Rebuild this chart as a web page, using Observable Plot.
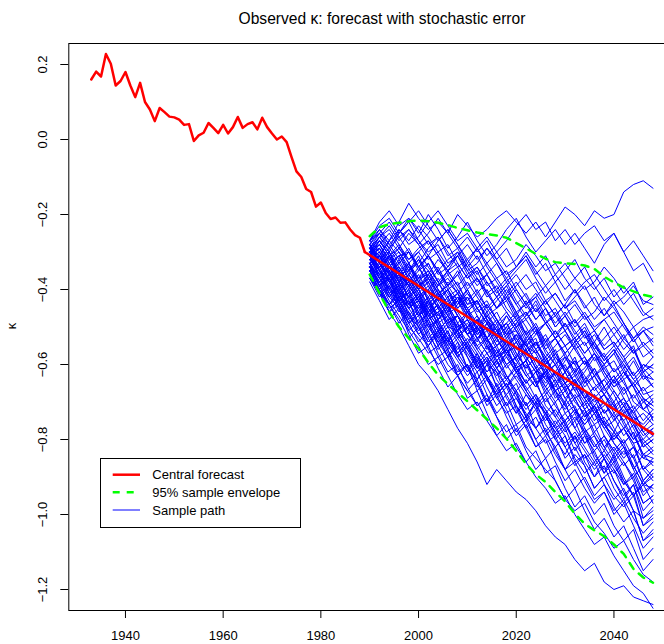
<!DOCTYPE html>
<html><head><meta charset="utf-8">
<script src="https://cdn.jsdelivr.net/npm/d3@7"></script>
<script src="https://cdn.jsdelivr.net/npm/@observablehq/plot@0.6"></script>
<style>
body{margin:0;background:#fff;}
#wrap{position:relative;width:664px;height:644px;overflow:hidden;background:#fff;font-family:"Liberation Sans",Arial,sans-serif;}
#wrap svg.ov{position:absolute;left:0;top:0;}
</style></head><body><div id="wrap"></div>
<script>
const titleText = "Observed κ: forecast with stochastic error";
const yLabel = "κ";
const legendLabels = ["Central forecast", "95% sample envelope", "Sample path"];

const obsYears = [1933,1934,1935,1936,1937,1938,1939,1940,1941,1942,1943,1944,1945,1946,1947,1948,1949,1950,1951,1952,1953,1954,1955,1956,1957,1958,1959,1960,1961,1962,1963,1964,1965,1966,1967,1968,1969,1970,1971,1972,1973,1974,1975,1976,1977,1978,1979,1980,1981,1982,1983,1984,1985,1986,1987,1988,1989];
const obsValues = [0.160,0.181,0.168,0.228,0.202,0.144,0.156,0.180,0.144,0.113,0.151,0.100,0.080,0.049,0.084,0.073,0.061,0.059,0.053,0.039,0.041,-0.004,0.011,0.018,0.044,0.031,0.017,0.039,0.016,0.033,0.060,0.031,0.041,0.046,0.027,0.058,0.033,0.016,0.000,0.008,-0.007,-0.047,-0.085,-0.100,-0.132,-0.140,-0.179,-0.168,-0.196,-0.212,-0.208,-0.222,-0.221,-0.240,-0.255,-0.262,-0.300];

const centralYears = [1989, 2048];
const centralValues = [-0.300, -0.785];

const pathYears = [1990,1992,1994,1996,1998,2000,2002,2004,2006,2008,2010,2012,2014,2016,2018,2020,2022,2024,2026,2028,2030,2032,2034,2036,2038,2040,2042,2044,2046,2048];
const envUpper = [-0.258,-0.234,-0.226,-0.222,-0.218,-0.216,-0.218,-0.222,-0.228,-0.236,-0.242,-0.248,-0.252,-0.256,-0.262,-0.276,-0.290,-0.305,-0.318,-0.327,-0.330,-0.332,-0.336,-0.345,-0.366,-0.381,-0.395,-0.405,-0.414,-0.420];
const envLower = [-0.36,-0.41,-0.46,-0.50,-0.53,-0.558,-0.595,-0.628,-0.652,-0.675,-0.698,-0.722,-0.746,-0.770,-0.798,-0.830,-0.865,-0.893,-0.913,-0.940,-0.965,-0.998,-1.025,-1.042,-1.058,-1.080,-1.105,-1.145,-1.168,-1.182];

const samplePaths = [
[-0.28,-0.24,-0.27,-0.22,-0.17,-0.21,-0.24,-0.22,-0.25,-0.20,-0.23,-0.26,-0.24,-0.21,-0.19,-0.22,-0.25,-0.22,-0.26,-0.22,-0.18,-0.20,-0.23,-0.19,-0.21,-0.20,-0.14,-0.12,-0.11,-0.13],
[-0.27,-0.22,-0.19,-0.23,-0.21,-0.25,-0.20,-0.24,-0.29,-0.26,-0.22,-0.27,-0.31,-0.28,-0.24,-0.21,-0.26,-0.30,-0.27,-0.24,-0.28,-0.25,-0.29,-0.33,-0.28,-0.25,-0.30,-0.27,-0.31,-0.35],
[-0.29,-0.26,-0.30,-0.25,-0.22,-0.19,-0.23,-0.27,-0.24,-0.28,-0.33,-0.29,-0.26,-0.30,-0.27,-0.23,-0.20,-0.24,-0.22,-0.27,-0.24,-0.28,-0.25,-0.23,-0.27,-0.25,-0.30,-0.35,-0.33,-0.38],
[-0.36,-0.41,-0.46,-0.50,-0.55,-0.60,-0.63,-0.67,-0.72,-0.77,-0.81,-0.86,-0.92,-0.88,-0.91,-0.94,-0.96,-0.99,-1.03,-1.06,-1.08,-1.12,-1.15,-1.13,-1.18,-1.20,-1.19,-1.22,-1.23,-1.24],
[-0.35,-0.38,-0.43,-0.47,-0.51,-0.55,-0.60,-0.58,-0.63,-0.68,-0.72,-0.70,-0.75,-0.79,-0.83,-0.81,-0.86,-0.90,-0.93,-0.97,-0.95,-1.00,-1.04,-1.08,-1.06,-1.11,-1.15,-1.19,-1.21,-1.25],
[-0.34,-0.39,-0.42,-0.45,-0.50,-0.53,-0.57,-0.55,-0.60,-0.63,-0.67,-0.71,-0.69,-0.74,-0.78,-0.76,-0.82,-0.85,-0.88,-0.91,-0.96,-0.99,-0.97,-1.02,-1.05,-1.09,-1.07,-1.12,-1.16,-1.18],
[-0.30,-0.27,-0.31,-0.29,-0.25,-0.28,-0.32,-0.30,-0.34,-0.31,-0.35,-0.33,-0.29,-0.32,-0.36,-0.34,-0.31,-0.35,-0.39,-0.36,-0.33,-0.37,-0.40,-0.38,-0.34,-0.37,-0.41,-0.38,-0.44,-0.42],
[-0.31,-0.28,-0.25,-0.29,-0.32,-0.30,-0.27,-0.31,-0.35,-0.33,-0.37,-0.34,-0.38,-0.42,-0.39,-0.36,-0.40,-0.38,-0.43,-0.41,-0.45,-0.42,-0.39,-0.44,-0.47,-0.43,-0.46,-0.50,-0.48,-0.47],
[-0.28,-0.32,-0.29,-0.26,-0.24,-0.27,-0.31,-0.35,-0.32,-0.30,-0.34,-0.38,-0.36,-0.40,-0.37,-0.41,-0.45,-0.42,-0.39,-0.43,-0.47,-0.44,-0.48,-0.46,-0.42,-0.45,-0.49,-0.53,-0.51,-0.50],
[-0.32,-0.30,-0.34,-0.31,-0.35,-0.33,-0.29,-0.26,-0.30,-0.34,-0.32,-0.36,-0.33,-0.37,-0.41,-0.38,-0.42,-0.46,-0.43,-0.47,-0.44,-0.40,-0.44,-0.48,-0.45,-0.49,-0.53,-0.50,-0.55,-0.53],
[-0.29,-0.33,-0.36,-0.33,-0.30,-0.34,-0.31,-0.35,-0.39,-0.36,-0.33,-0.37,-0.41,-0.39,-0.43,-0.40,-0.44,-0.41,-0.45,-0.49,-0.46,-0.50,-0.47,-0.51,-0.55,-0.52,-0.56,-0.53,-0.58,-0.56],
[-0.33,-0.37,-0.34,-0.38,-0.36,-0.32,-0.35,-0.39,-0.37,-0.41,-0.38,-0.42,-0.46,-0.43,-0.40,-0.44,-0.48,-0.45,-0.49,-0.47,-0.51,-0.48,-0.52,-0.56,-0.53,-0.50,-0.54,-0.57,-0.55,-0.58],
[-0.27,-0.25,-0.29,-0.33,-0.30,-0.34,-0.38,-0.35,-0.39,-0.43,-0.40,-0.37,-0.41,-0.45,-0.42,-0.46,-0.44,-0.48,-0.45,-0.50,-0.47,-0.51,-0.55,-0.52,-0.56,-0.54,-0.58,-0.55,-0.62,-0.60],
[-0.31,-0.35,-0.38,-0.42,-0.39,-0.43,-0.40,-0.37,-0.41,-0.45,-0.42,-0.46,-0.44,-0.48,-0.52,-0.49,-0.46,-0.50,-0.54,-0.51,-0.55,-0.53,-0.57,-0.54,-0.58,-0.62,-0.59,-0.63,-0.60,-0.62],
[-0.30,-0.28,-0.32,-0.30,-0.34,-0.37,-0.35,-0.39,-0.36,-0.40,-0.44,-0.41,-0.45,-0.49,-0.46,-0.50,-0.48,-0.52,-0.49,-0.53,-0.57,-0.54,-0.51,-0.55,-0.59,-0.56,-0.60,-0.64,-0.61,-0.64],
[-0.34,-0.31,-0.35,-0.39,-0.36,-0.40,-0.44,-0.41,-0.45,-0.42,-0.46,-0.50,-0.47,-0.51,-0.49,-0.53,-0.57,-0.54,-0.58,-0.55,-0.52,-0.56,-0.60,-0.57,-0.61,-0.65,-0.62,-0.66,-0.63,-0.66],
[-0.28,-0.33,-0.30,-0.36,-0.35,-0.31,-0.37,-0.42,-0.40,-0.38,-0.44,-0.43,-0.47,-0.45,-0.41,-0.46,-0.52,-0.50,-0.55,-0.53,-0.49,-0.54,-0.58,-0.63,-0.61,-0.59,-0.64,-0.62,-0.68,-0.67],
[-0.32,-0.35,-0.41,-0.39,-0.44,-0.42,-0.47,-0.45,-0.50,-0.51,-0.46,-0.43,-0.48,-0.53,-0.50,-0.56,-0.54,-0.51,-0.57,-0.60,-0.58,-0.63,-0.61,-0.57,-0.62,-0.66,-0.64,-0.70,-0.72,-0.69],
[-0.30,-0.29,-0.34,-0.31,-0.30,-0.35,-0.33,-0.38,-0.43,-0.41,-0.46,-0.49,-0.44,-0.48,-0.52,-0.51,-0.56,-0.54,-0.59,-0.62,-0.58,-0.60,-0.65,-0.63,-0.67,-0.64,-0.61,-0.66,-0.72,-0.70],
[-0.33,-0.38,-0.36,-0.40,-0.37,-0.41,-0.46,-0.44,-0.49,-0.47,-0.52,-0.50,-0.55,-0.58,-0.56,-0.61,-0.59,-0.54,-0.58,-0.63,-0.60,-0.65,-0.69,-0.66,-0.64,-0.68,-0.73,-0.71,-0.75,-0.72],
[-0.29,-0.27,-0.31,-0.28,-0.33,-0.37,-0.36,-0.41,-0.39,-0.35,-0.40,-0.45,-0.43,-0.48,-0.53,-0.50,-0.55,-0.57,-0.54,-0.59,-0.64,-0.61,-0.66,-0.63,-0.68,-0.71,-0.69,-0.74,-0.76,-0.73],
[-0.35,-0.34,-0.39,-0.43,-0.41,-0.38,-0.43,-0.48,-0.46,-0.51,-0.49,-0.53,-0.57,-0.55,-0.60,-0.58,-0.53,-0.57,-0.62,-0.60,-0.65,-0.63,-0.67,-0.70,-0.68,-0.72,-0.69,-0.73,-0.77,-0.74],
[-0.31,-0.36,-0.34,-0.38,-0.42,-0.39,-0.37,-0.41,-0.45,-0.43,-0.48,-0.52,-0.50,-0.55,-0.53,-0.58,-0.56,-0.61,-0.64,-0.62,-0.66,-0.64,-0.69,-0.73,-0.71,-0.67,-0.71,-0.75,-0.73,-0.76],
[-0.27,-0.30,-0.35,-0.33,-0.37,-0.40,-0.45,-0.42,-0.47,-0.50,-0.48,-0.53,-0.51,-0.56,-0.60,-0.58,-0.63,-0.61,-0.66,-0.62,-0.65,-0.69,-0.67,-0.72,-0.70,-0.74,-0.79,-0.76,-0.80,-0.77],
[-0.32,-0.31,-0.35,-0.40,-0.38,-0.42,-0.39,-0.44,-0.48,-0.47,-0.52,-0.50,-0.46,-0.51,-0.55,-0.53,-0.58,-0.62,-0.60,-0.64,-0.69,-0.66,-0.70,-0.68,-0.73,-0.71,-0.75,-0.80,-0.77,-0.78],
[-0.34,-0.39,-0.37,-0.42,-0.45,-0.43,-0.48,-0.46,-0.43,-0.47,-0.52,-0.55,-0.53,-0.58,-0.56,-0.61,-0.59,-0.64,-0.62,-0.67,-0.65,-0.69,-0.74,-0.72,-0.77,-0.75,-0.71,-0.76,-0.81,-0.79],
[-0.30,-0.34,-0.32,-0.36,-0.39,-0.43,-0.46,-0.42,-0.38,-0.41,-0.45,-0.49,-0.53,-0.50,-0.47,-0.51,-0.55,-0.59,-0.62,-0.58,-0.61,-0.65,-0.69,-0.66,-0.70,-0.74,-0.71,-0.75,-0.82,-0.80],
[-0.28,-0.25,-0.22,-0.26,-0.30,-0.34,-0.31,-0.35,-0.40,-0.44,-0.41,-0.45,-0.49,-0.53,-0.57,-0.54,-0.58,-0.62,-0.59,-0.63,-0.67,-0.64,-0.68,-0.72,-0.76,-0.73,-0.77,-0.74,-0.78,-0.81],
[-0.33,-0.37,-0.41,-0.44,-0.42,-0.47,-0.45,-0.49,-0.47,-0.52,-0.50,-0.55,-0.59,-0.56,-0.61,-0.58,-0.54,-0.60,-0.64,-0.67,-0.65,-0.70,-0.73,-0.71,-0.76,-0.79,-0.77,-0.81,-0.80,-0.83],
[-0.31,-0.29,-0.34,-0.38,-0.42,-0.40,-0.36,-0.40,-0.44,-0.49,-0.52,-0.48,-0.53,-0.57,-0.54,-0.59,-0.63,-0.66,-0.62,-0.67,-0.71,-0.68,-0.72,-0.76,-0.74,-0.78,-0.82,-0.85,-0.81,-0.84],
[-0.35,-0.40,-0.37,-0.41,-0.45,-0.49,-0.46,-0.50,-0.54,-0.51,-0.55,-0.60,-0.57,-0.61,-0.64,-0.60,-0.65,-0.62,-0.66,-0.70,-0.67,-0.72,-0.75,-0.71,-0.76,-0.80,-0.77,-0.81,-0.88,-0.85],
[-0.29,-0.33,-0.38,-0.35,-0.39,-0.43,-0.47,-0.51,-0.48,-0.52,-0.56,-0.53,-0.57,-0.61,-0.58,-0.62,-0.66,-0.70,-0.67,-0.71,-0.75,-0.72,-0.76,-0.73,-0.77,-0.81,-0.84,-0.82,-0.85,-0.86],
[-0.32,-0.36,-0.40,-0.43,-0.48,-0.45,-0.49,-0.53,-0.50,-0.54,-0.58,-0.62,-0.59,-0.63,-0.60,-0.64,-0.68,-0.72,-0.69,-0.73,-0.77,-0.74,-0.78,-0.82,-0.79,-0.83,-0.87,-0.84,-0.91,-0.88],
[-0.34,-0.31,-0.36,-0.40,-0.44,-0.41,-0.45,-0.49,-0.53,-0.57,-0.54,-0.58,-0.62,-0.59,-0.63,-0.67,-0.71,-0.68,-0.72,-0.76,-0.73,-0.77,-0.81,-0.78,-0.82,-0.86,-0.83,-0.87,-0.92,-0.89],
[-0.30,-0.35,-0.38,-0.43,-0.40,-0.44,-0.48,-0.52,-0.49,-0.53,-0.57,-0.61,-0.58,-0.62,-0.66,-0.63,-0.67,-0.71,-0.75,-0.72,-0.76,-0.80,-0.77,-0.81,-0.85,-0.82,-0.86,-0.90,-0.87,-0.90],
[-0.36,-0.41,-0.44,-0.42,-0.46,-0.50,-0.54,-0.51,-0.55,-0.59,-0.63,-0.60,-0.64,-0.68,-0.65,-0.69,-0.73,-0.77,-0.74,-0.78,-0.82,-0.79,-0.83,-0.87,-0.84,-0.88,-0.92,-0.89,-0.95,-0.92],
[-0.28,-0.33,-0.37,-0.41,-0.45,-0.42,-0.46,-0.50,-0.54,-0.58,-0.55,-0.59,-0.63,-0.67,-0.64,-0.68,-0.72,-0.69,-0.73,-0.77,-0.81,-0.78,-0.82,-0.86,-0.83,-0.87,-0.91,-0.95,-0.92,-0.93],
[-0.33,-0.39,-0.36,-0.42,-0.41,-0.47,-0.44,-0.49,-0.55,-0.52,-0.56,-0.61,-0.59,-0.66,-0.63,-0.68,-0.74,-0.70,-0.72,-0.79,-0.76,-0.81,-0.85,-0.83,-0.89,-0.86,-0.92,-0.90,-0.97,-0.95],
[-0.35,-0.31,-0.38,-0.43,-0.40,-0.46,-0.50,-0.48,-0.53,-0.51,-0.58,-0.64,-0.60,-0.62,-0.69,-0.73,-0.68,-0.71,-0.78,-0.75,-0.79,-0.86,-0.84,-0.88,-0.85,-0.91,-0.95,-0.92,-0.99,-0.96],
[-0.31,-0.37,-0.42,-0.39,-0.45,-0.43,-0.49,-0.55,-0.53,-0.57,-0.54,-0.60,-0.66,-0.71,-0.68,-0.73,-0.70,-0.77,-0.81,-0.79,-0.85,-0.82,-0.87,-0.93,-0.90,-0.88,-0.94,-0.99,-1.01,-0.98],
[-0.37,-0.40,-0.46,-0.44,-0.51,-0.48,-0.53,-0.58,-0.56,-0.63,-0.60,-0.65,-0.70,-0.67,-0.72,-0.78,-0.75,-0.80,-0.77,-0.83,-0.88,-0.84,-0.87,-0.93,-0.90,-0.95,-0.98,-0.95,-1.03,-1.00],
[-0.32,-0.35,-0.41,-0.46,-0.43,-0.49,-0.54,-0.51,-0.57,-0.62,-0.60,-0.67,-0.64,-0.69,-0.73,-0.71,-0.77,-0.82,-0.79,-0.84,-0.88,-0.86,-0.91,-0.96,-0.94,-0.99,-0.96,-1.01,-1.05,-1.02],
[-0.34,-0.39,-0.37,-0.44,-0.49,-0.47,-0.53,-0.50,-0.56,-0.61,-0.65,-0.62,-0.68,-0.73,-0.70,-0.76,-0.74,-0.80,-0.85,-0.82,-0.88,-0.93,-0.90,-0.95,-0.92,-0.98,-1.02,-0.99,-1.07,-1.04],
[-0.36,-0.34,-0.40,-0.45,-0.43,-0.50,-0.55,-0.52,-0.58,-0.63,-0.60,-0.65,-0.71,-0.68,-0.74,-0.79,-0.76,-0.82,-0.80,-0.86,-0.91,-0.88,-0.93,-0.97,-0.94,-1.00,-0.97,-1.03,-1.09,-1.06],
[-0.38,-0.43,-0.48,-0.45,-0.52,-0.57,-0.55,-0.61,-0.66,-0.63,-0.69,-0.67,-0.73,-0.79,-0.76,-0.82,-0.86,-0.83,-0.89,-0.87,-0.93,-0.98,-0.95,-1.00,-0.97,-1.03,-1.07,-1.04,-1.12,-1.09],
[-0.35,-0.40,-0.45,-0.43,-0.49,-0.54,-0.51,-0.57,-0.62,-0.60,-0.66,-0.71,-0.68,-0.74,-0.80,-0.77,-0.83,-0.88,-0.85,-0.91,-0.96,-0.93,-0.99,-1.04,-1.01,-1.06,-1.03,-1.09,-1.15,-1.12],
[-0.27,-0.23,-0.21,-0.25,-0.22,-0.27,-0.30,-0.28,-0.33,-0.31,-0.36,-0.34,-0.39,-0.37,-0.35,-0.40,-0.44,-0.42,-0.47,-0.45,-0.50,-0.48,-0.53,-0.51,-0.56,-0.54,-0.58,-0.63,-0.60,-0.61],
[-0.30,-0.26,-0.24,-0.28,-0.32,-0.29,-0.27,-0.31,-0.36,-0.34,-0.39,-0.37,-0.42,-0.40,-0.45,-0.48,-0.46,-0.51,-0.49,-0.53,-0.51,-0.56,-0.54,-0.59,-0.57,-0.62,-0.60,-0.64,-0.67,-0.65],
[-0.33,-0.31,-0.36,-0.34,-0.39,-0.37,-0.33,-0.38,-0.42,-0.40,-0.45,-0.43,-0.48,-0.51,-0.49,-0.46,-0.50,-0.55,-0.52,-0.57,-0.55,-0.60,-0.58,-0.62,-0.66,-0.63,-0.67,-0.65,-0.69,-0.71],
[-0.29,-0.35,-0.31,-0.38,-0.33,-0.40,-0.37,-0.41,-0.46,-0.42,-0.45,-0.51,-0.47,-0.50,-0.56,-0.52,-0.55,-0.53,-0.60,-0.57,-0.62,-0.58,-0.65,-0.61,-0.66,-0.70,-0.66,-0.72,-0.69,-0.75],
[-0.31,-0.37,-0.40,-0.36,-0.43,-0.45,-0.42,-0.48,-0.44,-0.51,-0.55,-0.50,-0.54,-0.60,-0.57,-0.55,-0.62,-0.66,-0.61,-0.67,-0.70,-0.65,-0.72,-0.69,-0.75,-0.78,-0.73,-0.79,-0.84,-0.82],
[-0.34,-0.36,-0.42,-0.38,-0.44,-0.47,-0.43,-0.50,-0.54,-0.49,-0.56,-0.59,-0.55,-0.61,-0.66,-0.62,-0.67,-0.64,-0.71,-0.74,-0.70,-0.77,-0.73,-0.79,-0.83,-0.78,-0.82,-0.88,-0.84,-0.87],
[-0.37,-0.41,-0.46,-0.42,-0.48,-0.52,-0.49,-0.55,-0.51,-0.58,-0.62,-0.57,-0.63,-0.68,-0.65,-0.71,-0.75,-0.70,-0.76,-0.80,-0.77,-0.83,-0.79,-0.85,-0.89,-0.84,-0.90,-0.95,-0.91,-0.94],
[-0.33,-0.39,-0.44,-0.40,-0.47,-0.50,-0.46,-0.53,-0.58,-0.54,-0.61,-0.64,-0.60,-0.66,-0.71,-0.67,-0.74,-0.77,-0.73,-0.80,-0.84,-0.79,-0.86,-0.90,-0.85,-0.91,-0.96,-0.92,-1.01,-0.99],
[-0.29,-0.31,-0.27,-0.24,-0.28,-0.26,-0.22,-0.19,-0.23,-0.27,-0.25,-0.29,-0.33,-0.30,-0.34,-0.32,-0.28,-0.31,-0.35,-0.33,-0.37,-0.41,-0.38,-0.36,-0.40,-0.44,-0.42,-0.39,-0.43,-0.44],
[-0.31,-0.27,-0.30,-0.34,-0.38,-0.35,-0.31,-0.27,-0.24,-0.28,-0.32,-0.29,-0.34,-0.38,-0.42,-0.39,-0.36,-0.40,-0.44,-0.41,-0.45,-0.43,-0.47,-0.51,-0.48,-0.46,-0.50,-0.54,-0.51,-0.54],
[-0.30,-0.26,-0.29,-0.24,-0.27,-0.23,-0.26,-0.30,-0.28,-0.33,-0.37,-0.35,-0.41,-0.45,-0.43,-0.48,-0.53,-0.50,-0.56,-0.60,-0.57,-0.62,-0.59,-0.65,-0.68,-0.64,-0.69,-0.73,-0.70,-0.72],
[-0.35,-0.40,-0.44,-0.49,-0.46,-0.52,-0.55,-0.51,-0.56,-0.53,-0.50,-0.54,-0.49,-0.52,-0.47,-0.51,-0.55,-0.52,-0.49,-0.53,-0.57,-0.54,-0.51,-0.56,-0.60,-0.57,-0.53,-0.56,-0.61,-0.58],
[-0.31,-0.34,-0.31,-0.36,-0.39,-0.36,-0.41,-0.45,-0.42,-0.47,-0.50,-0.47,-0.53,-0.58,-0.55,-0.61,-0.59,-0.65,-0.70,-0.67,-0.73,-0.71,-0.77,-0.82,-0.79,-0.84,-0.81,-0.87,-0.92,-0.90],
[-0.28,-0.32,-0.30,-0.35,-0.33,-0.38,-0.43,-0.40,-0.45,-0.42,-0.47,-0.52,-0.49,-0.54,-0.51,-0.57,-0.61,-0.58,-0.63,-0.66,-0.62,-0.67,-0.71,-0.68,-0.73,-0.70,-0.76,-0.80,-0.77,-0.79],
[-0.29,-0.25,-0.28,-0.32,-0.29,-0.34,-0.31,-0.36,-0.34,-0.30,-0.35,-0.39,-0.36,-0.41,-0.38,-0.43,-0.47,-0.44,-0.49,-0.46,-0.51,-0.55,-0.52,-0.57,-0.60,-0.57,-0.62,-0.65,-0.62,-0.66],
[-0.34,-0.39,-0.44,-0.48,-0.53,-0.50,-0.56,-0.60,-0.58,-0.63,-0.67,-0.64,-0.70,-0.65,-0.71,-0.69,-0.74,-0.70,-0.73,-0.77,-0.75,-0.72,-0.78,-0.76,-0.82,-0.79,-0.81,-0.78,-0.84,-0.85],
[-0.27,-0.24,-0.28,-0.25,-0.21,-0.24,-0.28,-0.26,-0.31,-0.29,-0.34,-0.31,-0.36,-0.33,-0.38,-0.35,-0.32,-0.37,-0.41,-0.38,-0.43,-0.40,-0.45,-0.42,-0.47,-0.44,-0.49,-0.53,-0.50,-0.52],
[-0.32,-0.36,-0.33,-0.38,-0.35,-0.39,-0.36,-0.32,-0.35,-0.31,-0.28,-0.32,-0.29,-0.33,-0.37,-0.34,-0.30,-0.34,-0.31,-0.36,-0.40,-0.37,-0.34,-0.39,-0.43,-0.40,-0.44,-0.41,-0.46,-0.48],
[-0.33,-0.37,-0.35,-0.41,-0.45,-0.42,-0.48,-0.46,-0.52,-0.56,-0.53,-0.57,-0.62,-0.59,-0.64,-0.61,-0.67,-0.71,-0.68,-0.74,-0.78,-0.75,-0.81,-0.79,-0.85,-0.89,-0.86,-0.91,-0.97,-0.95],
[-0.31,-0.35,-0.38,-0.35,-0.40,-0.37,-0.43,-0.47,-0.44,-0.41,-0.46,-0.50,-0.53,-0.49,-0.55,-0.52,-0.57,-0.54,-0.59,-0.56,-0.62,-0.59,-0.63,-0.67,-0.64,-0.61,-0.65,-0.69,-0.66,-0.70],
[-0.36,-0.41,-0.39,-0.45,-0.49,-0.46,-0.52,-0.56,-0.53,-0.58,-0.62,-0.59,-0.64,-0.61,-0.57,-0.60,-0.56,-0.61,-0.58,-0.63,-0.59,-0.55,-0.60,-0.57,-0.62,-0.66,-0.63,-0.59,-0.64,-0.62],
[-0.30,-0.28,-0.33,-0.31,-0.36,-0.40,-0.38,-0.43,-0.40,-0.46,-0.50,-0.48,-0.54,-0.51,-0.57,-0.62,-0.59,-0.65,-0.63,-0.69,-0.66,-0.72,-0.76,-0.73,-0.79,-0.83,-0.80,-0.85,-0.91,-0.88],
[-0.35,-0.33,-0.38,-0.36,-0.41,-0.45,-0.42,-0.47,-0.44,-0.49,-0.46,-0.51,-0.48,-0.53,-0.57,-0.54,-0.59,-0.56,-0.61,-0.65,-0.62,-0.67,-0.64,-0.69,-0.66,-0.71,-0.75,-0.72,-0.78,-0.76],
[-0.28,-0.31,-0.27,-0.30,-0.35,-0.32,-0.37,-0.34,-0.39,-0.36,-0.41,-0.44,-0.40,-0.45,-0.42,-0.47,-0.43,-0.48,-0.45,-0.50,-0.47,-0.52,-0.49,-0.54,-0.50,-0.55,-0.52,-0.57,-0.54,-0.57],
[-0.36,-0.40,-0.44,-0.41,-0.47,-0.51,-0.48,-0.54,-0.58,-0.55,-0.61,-0.66,-0.63,-0.69,-0.66,-0.72,-0.77,-0.74,-0.79,-0.76,-0.82,-0.87,-0.84,-0.90,-0.87,-0.93,-0.97,-0.94,-1.03,-1.01],
[-0.32,-0.30,-0.35,-0.39,-0.37,-0.42,-0.40,-0.45,-0.49,-0.47,-0.52,-0.50,-0.55,-0.59,-0.56,-0.61,-0.65,-0.62,-0.67,-0.64,-0.69,-0.73,-0.70,-0.75,-0.72,-0.77,-0.81,-0.78,-0.85,-0.83],
[-0.29,-0.33,-0.36,-0.32,-0.37,-0.41,-0.38,-0.43,-0.40,-0.45,-0.42,-0.47,-0.51,-0.48,-0.52,-0.49,-0.54,-0.51,-0.56,-0.53,-0.58,-0.62,-0.59,-0.63,-0.60,-0.65,-0.62,-0.66,-0.70,-0.68],
[-0.34,-0.38,-0.42,-0.39,-0.44,-0.41,-0.47,-0.51,-0.48,-0.53,-0.50,-0.56,-0.60,-0.57,-0.63,-0.67,-0.64,-0.69,-0.73,-0.70,-0.76,-0.73,-0.79,-0.83,-0.80,-0.85,-0.82,-0.88,-0.94,-0.92],
[-0.31,-0.27,-0.31,-0.35,-0.38,-0.34,-0.39,-0.43,-0.47,-0.44,-0.40,-0.45,-0.49,-0.53,-0.50,-0.47,-0.52,-0.56,-0.60,-0.57,-0.61,-0.65,-0.62,-0.58,-0.63,-0.67,-0.71,-0.68,-0.72,-0.74],
[-0.33,-0.37,-0.34,-0.39,-0.36,-0.40,-0.44,-0.41,-0.46,-0.43,-0.47,-0.45,-0.49,-0.46,-0.51,-0.48,-0.52,-0.49,-0.54,-0.51,-0.55,-0.53,-0.57,-0.54,-0.59,-0.56,-0.61,-0.58,-0.63,-0.64],
[-0.30,-0.35,-0.40,-0.37,-0.42,-0.46,-0.43,-0.48,-0.45,-0.50,-0.54,-0.51,-0.56,-0.53,-0.58,-0.62,-0.60,-0.65,-0.62,-0.68,-0.72,-0.69,-0.74,-0.71,-0.76,-0.80,-0.77,-0.82,-0.88,-0.86],
[-0.29,-0.26,-0.23,-0.27,-0.24,-0.28,-0.25,-0.21,-0.25,-0.29,-0.26,-0.30,-0.27,-0.32,-0.29,-0.34,-0.31,-0.36,-0.33,-0.38,-0.35,-0.32,-0.37,-0.40,-0.37,-0.42,-0.39,-0.43,-0.47,-0.45],
[-0.37,-0.42,-0.39,-0.44,-0.49,-0.46,-0.51,-0.48,-0.54,-0.58,-0.55,-0.61,-0.58,-0.64,-0.68,-0.65,-0.71,-0.68,-0.74,-0.78,-0.75,-0.81,-0.78,-0.84,-0.88,-0.85,-0.91,-0.95,-0.92,-0.97],
[-0.28,-0.33,-0.37,-0.34,-0.39,-0.43,-0.40,-0.45,-0.42,-0.47,-0.51,-0.48,-0.53,-0.57,-0.54,-0.59,-0.56,-0.61,-0.65,-0.62,-0.67,-0.64,-0.69,-0.73,-0.70,-0.75,-0.72,-0.77,-0.82,-0.80],
[-0.32,-0.29,-0.33,-0.37,-0.34,-0.38,-0.42,-0.39,-0.35,-0.39,-0.43,-0.40,-0.45,-0.42,-0.46,-0.50,-0.47,-0.43,-0.48,-0.52,-0.49,-0.53,-0.50,-0.55,-0.58,-0.55,-0.59,-0.56,-0.62,-0.60],
[-0.35,-0.39,-0.37,-0.43,-0.47,-0.44,-0.50,-0.54,-0.51,-0.57,-0.61,-0.58,-0.64,-0.68,-0.65,-0.71,-0.75,-0.72,-0.78,-0.82,-0.79,-0.85,-0.89,-0.86,-0.92,-0.96,-0.93,-0.99,-1.07,-1.05],
[-0.30,-0.34,-0.31,-0.36,-0.33,-0.38,-0.35,-0.40,-0.44,-0.41,-0.46,-0.43,-0.48,-0.52,-0.49,-0.54,-0.51,-0.56,-0.53,-0.58,-0.62,-0.59,-0.64,-0.61,-0.66,-0.63,-0.68,-0.65,-0.69,-0.71],
[-0.33,-0.31,-0.36,-0.40,-0.44,-0.41,-0.46,-0.42,-0.47,-0.51,-0.48,-0.53,-0.50,-0.55,-0.52,-0.57,-0.61,-0.58,-0.63,-0.60,-0.65,-0.62,-0.67,-0.71,-0.68,-0.73,-0.70,-0.75,-0.79,-0.77],
[-0.31,-0.28,-0.32,-0.29,-0.33,-0.30,-0.34,-0.38,-0.35,-0.39,-0.36,-0.41,-0.38,-0.42,-0.39,-0.44,-0.41,-0.46,-0.43,-0.47,-0.44,-0.49,-0.46,-0.50,-0.48,-0.52,-0.49,-0.54,-0.51,-0.55],
[-0.34,-0.38,-0.35,-0.41,-0.38,-0.43,-0.47,-0.44,-0.50,-0.47,-0.52,-0.56,-0.53,-0.59,-0.56,-0.61,-0.65,-0.62,-0.68,-0.65,-0.71,-0.75,-0.72,-0.78,-0.75,-0.81,-0.85,-0.82,-0.88,-0.91]
];

const xTicks = [1940, 1960, 1980, 2000, 2020, 2040];
const yTicks = [0.2, 0.0, -0.2, -0.4, -0.6, -0.8, -1.0, -1.2];
const yTickLabels = ["0.2", "0.0", "\u22120.2", "\u22120.4", "\u22120.6", "\u22120.8", "\u22121.0", "\u22121.2"];

const obsRows = obsYears.map((year, i) => ({year, k: obsValues[i]}));
const centralRows = centralYears.map((year, i) => ({year, k: centralValues[i]}));
const upperRows = pathYears.map((year, i) => ({year, k: envUpper[i]}));
const lowerRows = pathYears.map((year, i) => ({year, k: envLower[i]}));
const pathRows = samplePaths.flatMap((vals, j) => vals.map((k, i) => ({path: j, year: pathYears[i], k})));

const chart = Plot.plot({
  width: 730, height: 644,
  marginLeft: 68.3, marginRight: 34, marginTop: 43, marginBottom: 34,
  x: {domain: [1928.4, 2056.9]},
  y: {domain: [-1.256, 0.256]},
  style: {maxWidth: "none", fontFamily: "'Liberation Sans', Arial, sans-serif", fontSize: "13px", background: "white", color: "black", position: "absolute", left: "0px", top: "0px"},
  marks: [
    Plot.line(pathRows, {x: "year", y: "k", z: "path", stroke: "#0000ff", strokeWidth: 1}),
    Plot.line(obsRows, {x: "year", y: "k", stroke: "#ff0000", strokeWidth: 2.5}),
    Plot.line(upperRows, {x: "year", y: "k", stroke: "#00ff00", strokeWidth: 2.5, strokeDasharray: "7,7"}),
    Plot.line(lowerRows, {x: "year", y: "k", stroke: "#00ff00", strokeWidth: 2.5, strokeDasharray: "7,7"}),
    Plot.line(centralRows, {x: "year", y: "k", stroke: "#ff0000", strokeWidth: 2.5}),
    Plot.frame({stroke: "black"}),
    Plot.axisX(xTicks, {tickSize: 8, tickPadding: 12, tickFormat: d => String(d), label: null}),
    Plot.axisY(yTicks, {tickSize: 8, fill: "none", label: null}),
    Plot.text(yTicks, {y: d => d, text: (d, i) => yTickLabels[i], frameAnchor: "left", dx: -26, rotate: -90, textAnchor: "middle", lineAnchor: "middle", fontSize: 13, fill: "black"})
  ]
});

const wrap = document.getElementById("wrap");
wrap.appendChild(chart);

const NS = "http://www.w3.org/2000/svg";
const ov = document.createElementNS(NS, "svg");
ov.setAttribute("class", "ov");
ov.setAttribute("width", 664);
ov.setAttribute("height", 644);
ov.setAttribute("font-family", "'Liberation Sans', Arial, sans-serif");
function el(tag, attrs, text) {
  const e = document.createElementNS(NS, tag);
  for (const k in attrs) e.setAttribute(k, attrs[k]);
  if (text != null) e.textContent = text;
  ov.appendChild(e);
  return e;
}
el("text", {x: 382, y: 24, "text-anchor": "middle", "font-size": 15.6, fill: "black"}, titleText);
el("text", {transform: "translate(16,326) rotate(-90)", "text-anchor": "middle", "font-size": 13, fill: "black"}, yLabel);
el("rect", {x: 100.5, y: 458.5, width: 200, height: 69, fill: "white", stroke: "black", "stroke-width": 1});
const legRows = [
  {y: 474.7, stroke: "#ff0000", w: 2.5, dash: null},
  {y: 492.3, stroke: "#00ff00", w: 2.5, dash: "7,7"},
  {y: 510, stroke: "#0000ff", w: 1, dash: null}
];
legRows.forEach((r, i) => {
  const a = {x1: 112.7, x2: 140, y1: r.y, y2: r.y, stroke: r.stroke, "stroke-width": r.w};
  if (r.dash) a["stroke-dasharray"] = r.dash;
  el("line", a);
  el("text", {x: 152.3, y: r.y + 4.6, "font-size": 13, fill: "black"}, legendLabels[i]);
});
wrap.appendChild(ov);
</script></body></html>
